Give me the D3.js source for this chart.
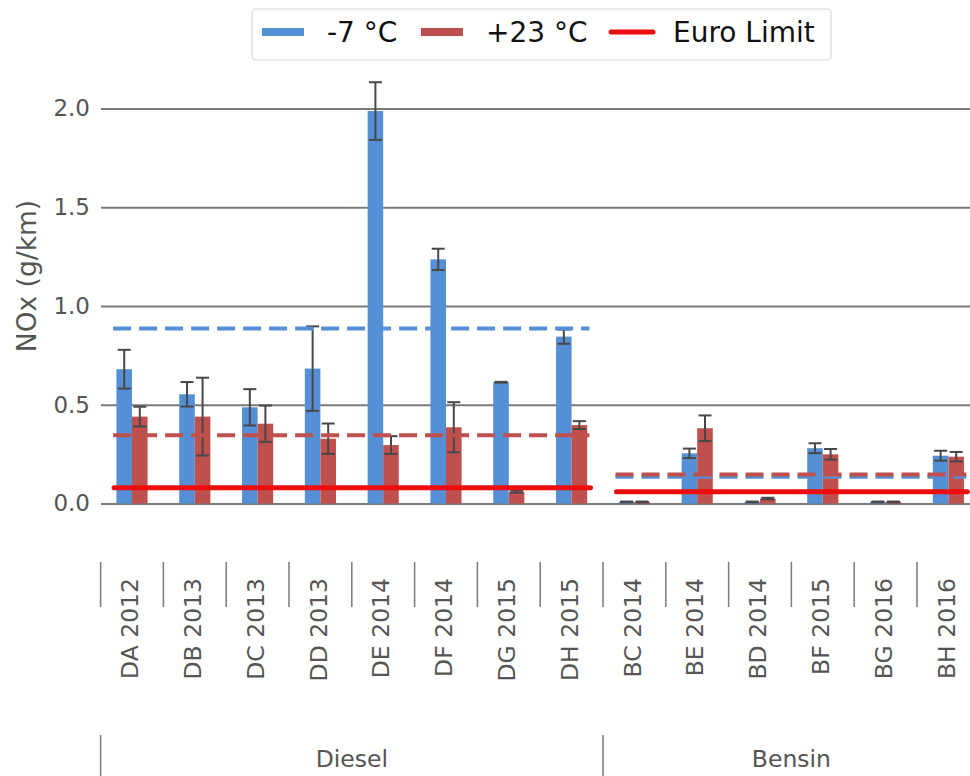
<!DOCTYPE html>
<html>
<head>
<meta charset="utf-8">
<script src="https://cdn.jsdelivr.net/npm/d3@7/dist/d3.min.js"></script>
<style>
  html, body { margin: 0; padding: 0; background: #fff; }
  svg { display: block; font-family: "DejaVu Sans", sans-serif; }
</style>
</head>
<body>
<svg id="chart" width="970" height="776"></svg>
<script>
// NOx emissions per car model, measured at -7 °C and +23 °C
const models = ["DA 2012", "DB 2013", "DC 2013", "DD 2013", "DE 2014", "DF 2014", "DG 2015", "DH 2015",
                "BC 2014", "BE 2014", "BD 2014", "BF 2015", "BG 2016", "BH 2016"];
const fuelGroups = ["Diesel", "Bensin"];
const groupSizes = [8, 6];

const coldValues = [0.68, 0.553, 0.487, 0.683, 1.987, 1.236, 0.614, 0.845,
                    0.008, 0.254, 0.008, 0.28, 0.008, 0.242];
const coldErrors = [0.098, 0.062, 0.092, 0.214, 0.146, 0.054, 0.002, 0.036,
                    0.002, 0.024, 0.002, 0.025, 0.002, 0.025];
const warmValues = [0.44, 0.44, 0.404, 0.328, 0.296, 0.386, 0.06, 0.397,
                    0.008, 0.381, 0.025, 0.249, 0.008, 0.237];
const warmErrors = [0.05, 0.197, 0.092, 0.077, 0.045, 0.127, 0.005, 0.02,
                    0.002, 0.065, 0.004, 0.027, 0.002, 0.024];

// Fleet averages per fuel type and the Euro emission limit
const coldAverages = [0.886, 0.136];
const warmAverages = [0.346, 0.147];
const euroLimits = [0.08, 0.06];

const yTicks = [0.0, 0.5, 1.0, 1.5, 2.0];

const colors = { cold: "#5590d6", warm: "#c0504d", limit: "#ee0d0d", err: "#484848", grid: "#7a7a7a", text: "#555" };

const svg = d3.select("#chart");
svg.append("rect").attr("width", 970).attr("height", 776).attr("fill", "#fff");

const x = d3.scaleBand().domain(models).range([100.6, 979.8]).padding(0);
const y = d3.scaleLinear().domain([0, 2]).range([503.5, 108.5]);
const bw = x.bandwidth() * 0.248;

// y axis with gridlines
const yAxis = d3.axisLeft(y).tickValues(yTicks).tickFormat(d3.format(".1f"))
  .tickSizeInner(-(970 - 101)).tickSizeOuter(0).tickPadding(11);
const gy = svg.append("g").attr("transform", "translate(101,0)").call(yAxis);
gy.select(".domain").remove();
gy.selectAll(".tick line").attr("stroke", colors.grid).attr("stroke-width", 1.8);
gy.selectAll(".tick text").attr("fill", colors.text).style("font-size", "23px").style("font-family", "DejaVu Sans");

svg.append("text")
  .attr("transform", "translate(36,276) rotate(-90)")
  .attr("text-anchor", "middle")
  .attr("fill", colors.text)
  .style("font-size", "26.5px")
  .text("NOx (g/km)");

// bars
const rows = models.map((m, i) => ({ m, cold: coldValues[i], coldErr: coldErrors[i], warm: warmValues[i], warmErr: warmErrors[i] }));
const center = m => x(m) + x.bandwidth() / 2;

svg.append("g").selectAll("rect").data(rows).join("rect")
  .attr("x", d => center(d.m) - bw).attr("width", bw)
  .attr("y", d => y(d.cold)).attr("height", d => y(0) - y(d.cold))
  .attr("fill", colors.cold);
svg.append("g").selectAll("rect").data(rows).join("rect")
  .attr("x", d => center(d.m)).attr("width", bw)
  .attr("y", d => y(d.warm)).attr("height", d => y(0) - y(d.warm))
  .attr("fill", colors.warm);

// error bars
const errs = rows.flatMap(d => [
  { cx: center(d.m) - bw / 2, v: d.cold, e: d.coldErr },
  { cx: center(d.m) + bw / 2, v: d.warm, e: d.warmErr }
]);
const ge = svg.append("g").attr("stroke", colors.err).attr("stroke-width", 2);
ge.selectAll("line.v").data(errs).join("line").attr("class", "v")
  .attr("x1", d => d.cx).attr("x2", d => d.cx)
  .attr("y1", d => y(d.v + d.e)).attr("y2", d => y(d.v - d.e));
ge.selectAll("line.t").data(errs).join("line").attr("class", "t")
  .attr("x1", d => d.cx - 6.5).attr("x2", d => d.cx + 6.5)
  .attr("y1", d => y(d.v + d.e)).attr("y2", d => y(d.v + d.e));
ge.selectAll("line.b").data(errs).join("line").attr("class", "b")
  .attr("x1", d => d.cx - 6.5).attr("x2", d => d.cx + 6.5)
  .attr("y1", d => y(d.v - d.e)).attr("y2", d => y(d.v - d.e));

// group extents
let start = 0;
const groups = fuelGroups.map((g, i) => {
  const first = models[start], last = models[start + groupSizes[i] - 1];
  const r = { name: g, x0: x(first), x1: x(last) + x.bandwidth(), cold: coldAverages[i], warm: warmAverages[i], limit: euroLimits[i] };
  start += groupSizes[i];
  return r;
});

// average and limit lines
const lx0 = g => g.x0 + 12.5, lx1 = g => g.x1 - 13.5;
svg.append("g").selectAll("line").data(groups).join("line")
  .attr("x1", lx0).attr("x2", lx1)
  .attr("y1", d => y(d.cold)).attr("y2", d => y(d.cold))
  .attr("stroke", colors.cold).attr("stroke-width", 4).attr("stroke-dasharray", "18,8");
svg.append("g").selectAll("line").data(groups).join("line")
  .attr("x1", lx0).attr("x2", lx1)
  .attr("y1", d => y(d.warm)).attr("y2", d => y(d.warm))
  .attr("stroke", colors.warm).attr("stroke-width", 4).attr("stroke-dasharray", "18,8");
svg.append("g").selectAll("line").data(groups).join("line")
  .attr("x1", d => lx0(d) + 1).attr("x2", d => lx1(d) + 1)
  .attr("y1", d => y(d.limit)).attr("y2", d => y(d.limit))
  .attr("stroke", colors.limit).attr("stroke-width", 5).attr("stroke-linecap", "round");

// x axis: model labels with separators
const gx = svg.append("g");
gx.selectAll("line").data(models).join("line")
  .attr("x1", d => x(d)).attr("x2", d => x(d))
  .attr("y1", 562).attr("y2", 607)
  .attr("stroke", colors.grid).attr("stroke-width", 1.5);
gx.selectAll("text").data(models).join("text")
  .attr("transform", d => `translate(${center(d) - 2},578) rotate(-90)`)
  .attr("text-anchor", "end").attr("dy", "0.35em")
  .attr("fill", colors.text).style("font-size", "23.5px")
  .text(d => d);

// fuel group labels
const gg = svg.append("g");
gg.selectAll("line").data(groups).join("line")
  .attr("x1", d => d.x0).attr("x2", d => d.x0)
  .attr("y1", 735).attr("y2", 776)
  .attr("stroke", colors.grid).attr("stroke-width", 1.5);
gg.selectAll("text").data(groups).join("text")
  .attr("x", d => (d.x0 + d.x1) / 2).attr("y", 767)
  .attr("text-anchor", "middle").attr("fill", colors.text).style("font-size", "23.5px")
  .text(d => d.name);

// legend
const lg = svg.append("g");
lg.append("rect").attr("x", 252).attr("y", 9).attr("width", 579).attr("height", 51)
  .attr("rx", 4).attr("fill", "#fff").attr("stroke", "#d8d8d8").attr("stroke-width", 1.2);
const legendItems = [
  { label: "-7 °C", type: "bar", color: colors.cold, sx: 262, tx: 327 },
  { label: "+23 °C", type: "bar", color: colors.warm, sx: 421, tx: 486 },
  { label: "Euro Limit", type: "line", color: colors.limit, sx: 611, tx: 673 }
];
legendItems.forEach(it => {
  if (it.type === "bar") {
    lg.append("rect").attr("x", it.sx).attr("y", 28).attr("width", 42).attr("height", 8).attr("fill", it.color);
  } else {
    lg.append("line").attr("x1", it.sx).attr("x2", it.sx + 42).attr("y1", 32).attr("y2", 32)
      .attr("stroke", it.color).attr("stroke-width", 5).attr("stroke-linecap", "round");
  }
  lg.append("text").attr("x", it.tx).attr("y", 42).attr("fill", "#111").style("font-size", "28px").text(it.label);
});
</script>
</body>
</html>
